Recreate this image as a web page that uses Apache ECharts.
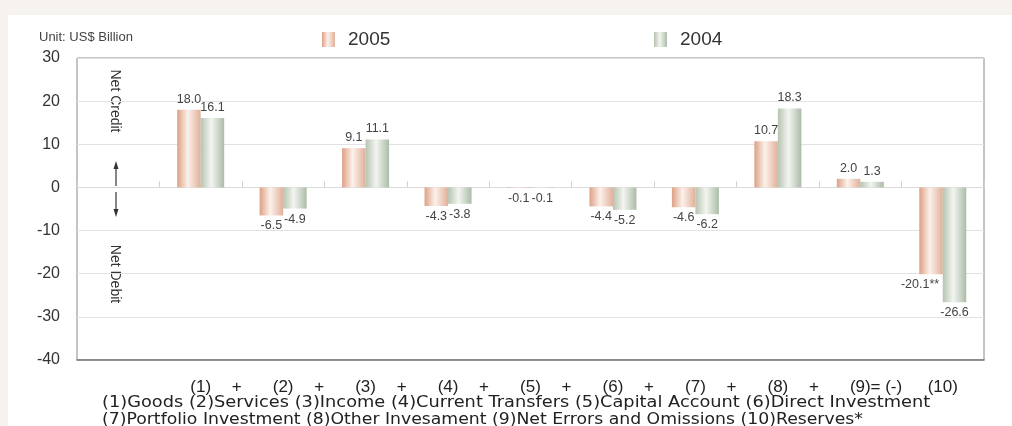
<!DOCTYPE html>
<html>
<head>
<meta charset="utf-8">
<title>Balance of Payments</title>
<script src="https://cdn.jsdelivr.net/npm/echarts@6.0.0/dist/echarts.min.js"></script>
<style>
  html, body { margin: 0; padding: 0; background: #ffffff; }
  #chart { width: 1012px; height: 426px; }
</style>
</head>
<body>
<div id="chart"></div>
<script>
  // data (US$ billion)
  var categories = ['(1)', '(2)', '(3)', '(4)', '(5)', '(6)', '(7)', '(8)', '(9)', '(10)'];
  var operators = ['+', '+', '+', '+', '+', '+', '+', '+', '= (-)', ''];
  var values2005 = [18.0, -6.5, 9.1, -4.3, -0.1, -4.4, -4.6, 10.7, 2.0, -20.1];
  var values2004 = [16.1, -4.9, 11.1, -3.8, -0.1, -5.2, -6.2, 18.3, 1.3, -26.6];
  var notes2005 = ['', '', '', '', '', '', '', '', '', '**'];
  var yTicks = [-40, -30, -20, -10, 0, 10, 20, 30];
  var captionLines = [
    '(1)Goods (2)Services (3)Income (4)Current Transfers (5)Capital Account (6)Direct Investment',
    '(7)Portfolio Investment (8)Other Invesament (9)Net Errors and Omissions (10)Reserves*'
  ];

  var font = "'Liberation Sans', Arial, sans-serif";
  var captionFont = "'DejaVu Sans', sans-serif";

  // the first slot is the empty "Net Credit / Net Debit" column
  var xData = [''].concat(categories);
  var opData = [''].concat(operators);

  function grad(c0, c1, c2) {
    return new echarts.graphic.LinearGradient(0, 0, 1, 0, [
      {offset: 0, color: c0},
      {offset: 0.45, color: c1},
      {offset: 1, color: c2}
    ]);
  }

  function barData(values, notes) {
    var out = ['-'];
    values.forEach(function (v, i) {
      var item = {value: v};
      if (notes && notes[i]) {
        item.label = {offset: [-11, 0]};
      }
      out.push(item);
    });
    return out;
  }

  function barLabel(values, notes) {
    return {
      show: true,
      position: 'outside',
      distance: 4,
      fontFamily: font,
      fontSize: 12.5,
      color: '#444',
      formatter: function (p) {
        var i = p.dataIndex - 1;
        if (i < 0) return '';
        return values[i].toFixed(1) + (notes ? notes[i] : '');
      }
    };
  }

  function legendFor(name, left) {
    return {
      data: [name], left: left, top: 30, padding: 0, selectedMode: false,
      icon: 'rect', itemWidth: 13, itemHeight: 15,
      textStyle: {fontFamily: font, fontSize: 19, color: '#333', padding: [0, 0, 0, 8]}
    };
  }

  function vText(text, y) {
    return {
      type: 'text', x: 115, y: y, rotation: -Math.PI / 2,
      style: {text: text, x: 0, y: 0, align: 'center', verticalAlign: 'middle', fontFamily: font, fontSize: 14, fill: '#333'}
    };
  }

  // the caption font in the picture is wider than anything installed
  function caption(text, y, sx) {
    return {
      type: 'text', x: 102, y: y, scaleX: sx,
      style: {text: text, x: 0, y: 0, verticalAlign: 'middle', fontFamily: captionFont, fontSize: 15, fill: '#222'}
    };
  }

  var chart = echarts.init(document.getElementById('chart'));

  var option = {
    backgroundColor: '#ffffff',
    animation: false,
    legend: [legendFor('2005', 322), legendFor('2004', 654)],
    grid: {
      left: 77, right: 28, top: 58, bottom: 66,
      show: true, borderColor: '#8a8a8a', borderWidth: 1
    },
    xAxis: [
      {
        type: 'category', data: xData, position: 'bottom',
        axisLine: {onZero: true, lineStyle: {color: '#dcdcdc'}},
        axisTick: {show: true, inside: true, length: 6, lineStyle: {color: '#cfcfcf'}},
        axisLabel: {show: false},
        splitLine: {show: false}
      },
      {
        type: 'category', data: xData, position: 'bottom',
        axisLine: {show: true, onZero: false, lineStyle: {color: '#777', width: 1.5}},
        axisTick: {show: false},
        axisLabel: {interval: 0, margin: 19, fontFamily: font, fontSize: 17, color: '#222'}
      },
      {
        type: 'category', data: opData, position: 'bottom',
        axisLine: {show: false, onZero: false},
        axisTick: {show: false},
        axisLabel: {
          interval: 0, margin: 19,
          formatter: function (v) {
            if (!v) return '';
            return v === '+' ? '{plus|' + v + '}' : '{eq|' + v + '}';
          },
          rich: {
            plus: {fontFamily: font, fontSize: 17, color: '#222', padding: [0, 0, 0, 72]},
            eq: {fontFamily: font, fontSize: 17, color: '#222', padding: [0, 0, 0, 52]}
          }
        }
      }
    ],
    yAxis: {
      type: 'value',
      min: yTicks[0], max: yTicks[yTicks.length - 1], interval: 10,
      axisLine: {show: false},
      axisTick: {show: false},
      axisLabel: {margin: 17, fontFamily: font, fontSize: 16, color: '#333'},
      splitLine: {lineStyle: {color: '#e2e2e2'}}
    },
    series: [
      {
        name: '2005', type: 'bar', xAxisIndex: 0,
        barWidth: 23.5, barGap: '0%',
        itemStyle: {color: grad('#dda084', '#fcf1eb', '#e0b09a')},
        label: barLabel(values2005, notes2005),
        data: barData(values2005, notes2005)
      },
      {
        name: '2004', type: 'bar', xAxisIndex: 0,
        barWidth: 23.5, barGap: '0%',
        itemStyle: {color: grad('#b6c4b1', '#f3f5f0', '#abbca7')},
        label: barLabel(values2004),
        data: barData(values2004)
      }
    ],
    graphic: [
      // beige frame around the white panel
      {type: 'rect', silent: true, shape: {x: 0, y: 0, width: 1012, height: 15}, style: {fill: '#f6f3ee'}},
      {type: 'rect', silent: true, shape: {x: 0, y: 0, width: 8, height: 426}, style: {fill: '#f6f3ee'}},
      {
        type: 'text', left: 39, top: 31,
        style: {text: 'Unit: US$ Billion', fontFamily: font, fontSize: 13, fill: '#444'}
      },
      vText('Net Credit', 101),
      vText('Net Debit', 274),
      // arrows
      {type: 'line', silent: true, shape: {x1: 116, y1: 166, x2: 116, y2: 186}, style: {stroke: '#333', lineWidth: 1.2}},
      {type: 'polygon', silent: true, shape: {points: [[116, 161], [113.5, 169], [118.5, 169]]}, style: {fill: '#333'}},
      {type: 'line', silent: true, shape: {x1: 116, y1: 192, x2: 116, y2: 212}, style: {stroke: '#333', lineWidth: 1.2}},
      {type: 'polygon', silent: true, shape: {points: [[116, 217], [113.5, 209], [118.5, 209]]}, style: {fill: '#333'}},
      caption(captionLines[0], 403, 1.185),
      caption(captionLines[1], 420, 1.15)
    ]
  };

  chart.setOption(option);
</script>
</body>
</html>
